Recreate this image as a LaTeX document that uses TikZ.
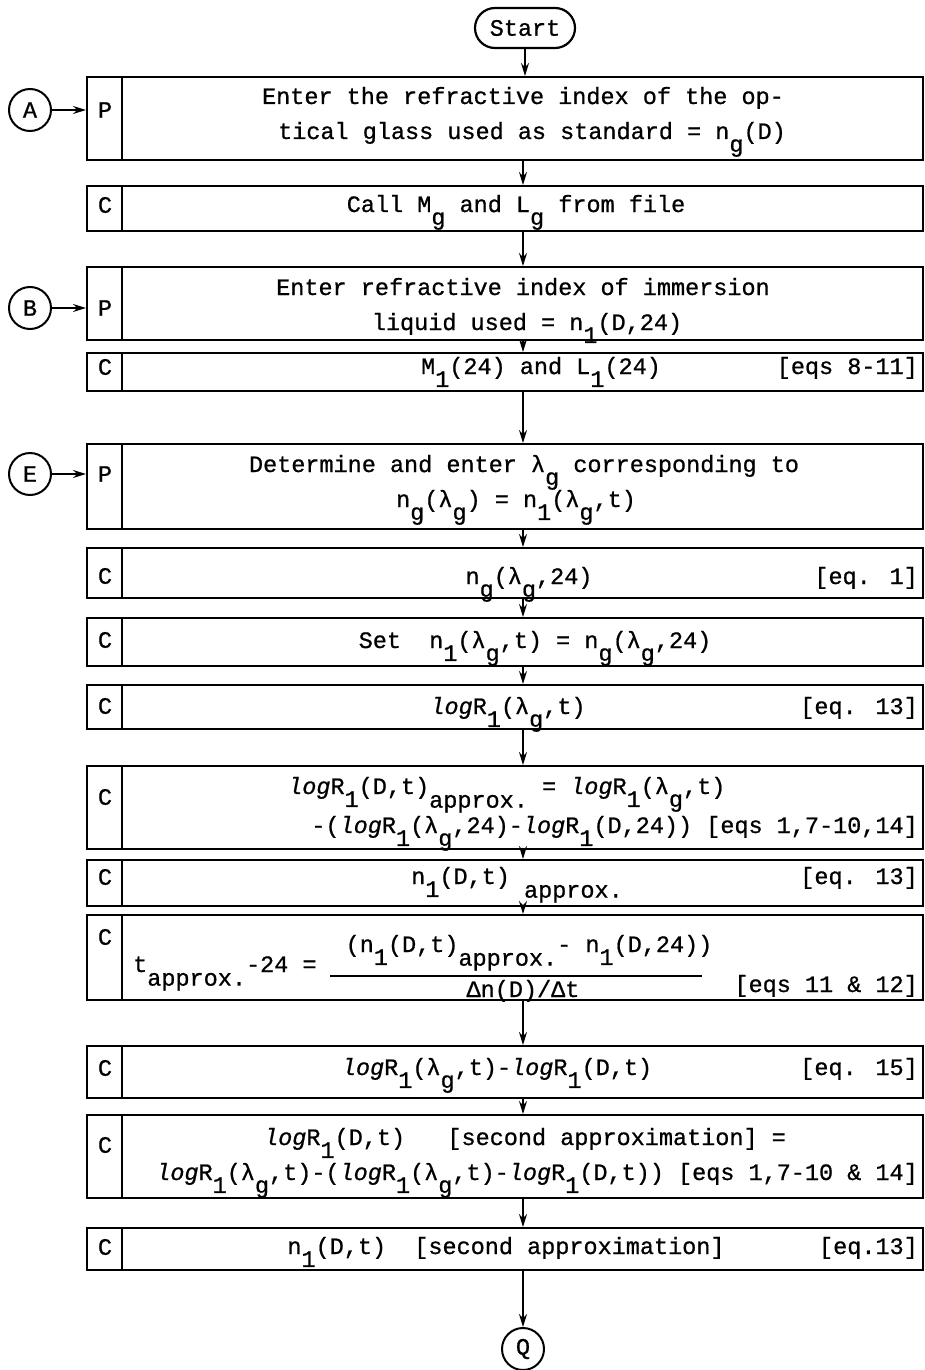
\documentclass[tikz,border=0pt]{standalone}
\usepackage{fontspec}
\setmainfont{Liberation Mono}[FakeBold=0.8]
\usetikzlibrary{arrows.meta,shapes.misc}
% lowered index, set at full size as on a typewriter
\newcommand\lo[1]{\raisebox{-0.55em}{#1}}
\newcommand\ap{\raisebox{-0.58em}{approx.}}
\newcommand\logR{\textit{log}R}
% one process box: name, top, bottom, type letter, letter y
\newcommand\flowstep[5]{%
  \node[stepbox, minimum height={(#3-#2)*1pt}] (#1) at (505,{(#2+#3)/2}) {};
  \draw[rule] ([xshift=36pt]#1.north west) -- ([xshift=36pt]#1.south west);
  \node (#1-tag) at (105,#5) {#4};
}
\begin{document}
\begin{tikzpicture}[x=1pt,y=-1pt,
  every node/.style={font=\fontsize{23.5}{28}\selectfont, inner sep=0pt},
  stepbox/.style={draw, line width=2pt, minimum width=836pt},
  rule/.style={line width=2pt},
  conn/.style={draw, circle, line width=2pt, minimum size=42pt},
  term/.style={draw, rounded rectangle, line width=2.2pt, minimum width=100pt, minimum height=40pt},
  arr/.style={line width=1.6pt, -{Stealth[length=13pt,width=8pt]}},
  txt/.style={anchor=base},
  eqref/.style={anchor=base east}]
\useasboundingbox (0,0) rectangle (925,1370);
\coordinate (spine) at (523,0);

% terminals and connectors
\node[term] (start) at (525,28) {Start};
\node[conn] (A) at (30,110) {A};
\node[conn] (B) at (30,308) {B};
\node[conn] (E) at (30,474) {E};
\node[conn] (Q) at (523,1349) {Q};

% process boxes
\flowstep{b1}{77}{160}{P}{110}
\flowstep{b2}{186}{231}{C}{205}
\flowstep{b3}{267}{340}{P}{308}
\flowstep{b4}{353}{391}{C}{367}
\flowstep{b5}{444}{529}{P}{474}
\flowstep{b6}{548}{598}{C}{576}
\flowstep{b7}{618}{666}{C}{640}
\flowstep{b8}{685}{729}{C}{706}
\flowstep{b9}{766}{849}{C}{797}
\flowstep{b10}{860}{906}{C}{877}
\flowstep{b11}{915}{1000}{C}{937}
\flowstep{b12}{1046}{1098}{C}{1068}
\flowstep{b13}{1115}{1198}{C}{1145}
\flowstep{b14}{1228}{1270}{C}{1247}

% texts
\node[txt] (b1a) at (523,104) {Enter the refractive index of the op-};
\node[txt] (b1b) at (532,139) {tical glass used as standard = n\lo{g}(D)};
\node[txt] (b2a) at (516,212) {Call M\lo{g} and L\lo{g} from file};
\node[txt] (b3a) at (523,295) {Enter refractive index of immersion};
\node[txt] (b3b) at (527,330) {liquid used = n\lo{1}(D,24)};
\node[txt] (b4a) at (541,374) {M\lo{1}(24) and L\lo{1}(24)};
\node[eqref] (b4e) at (918,374) {[eqs 8-11]};
\node[txt] (b5a) at (524,472) {Determine and enter λ\lo{g} corresponding to};
\node[txt] (b5b) at (516,507) {n\lo{g}(λ\lo{g}) = n\lo{1}(λ\lo{g},t)};
\node[txt] (b6a) at (529,584) {n\lo{g}(λ\lo{g},24)};
\node[eqref] (b6e) at (918,584) {[eq. 1]};
\node[txt] (b7a) at (535,648) {Set~~n\lo{1}(λ\lo{g},t) = n\lo{g}(λ\lo{g},24)};
\node[txt] (b8a) at (508,714) {\logR\lo{1}(λ\lo{g},t)};
\node[eqref] (b8e) at (918,714) {[eq. 13]};
\node[anchor=base west] (b9a) at (288,794) {\logR\lo{1}(D,t)\ap{} = \logR\lo{1}(λ\lo{g},t)};
\node[eqref] (b9b) at (918,833) {-(\logR\lo{1}(λ\lo{g},24)-\logR\lo{1}(D,24)) [eqs 1,7-10,14]};
\node[txt] (b10a) at (517,884) {n\lo{1}(D,t) \ap};
\node[eqref] (b10e) at (918,884) {[eq. 13]};
\node[anchor=base west] (b11l) at (133,972) {t\ap-24 =};
\node[txt] (b11n) at (529,952) {(n\lo{1}(D,t)\ap- n\lo{1}(D,24))};
\node[txt] (b11d) at (523,997) {Δn(D)/Δt};
\coordinate (fracL) at (330,976);
\coordinate (fracR) at (702,976);
\draw[line width=1.6pt] (fracL) -- (fracR);
\node[eqref] (b11e) at (918,992) {[eqs 11 \& 12]};
\node[txt] (b12a) at (497,1075) {\logR\lo{1}(λ\lo{g},t)-\logR\lo{1}(D,t)};
\node[eqref] (b12e) at (918,1075) {[eq. 15]};
\node[txt] (b13a) at (525,1145) {\logR\lo{1}(D,t)~~~[second approximation] =};
\node[eqref] (b13b) at (918,1180) {\logR\lo{1}(λ\lo{g},t)-(\logR\lo{1}(λ\lo{g},t)-\logR\lo{1}(D,t)) [eqs 1,7-10 \& 14]};
\node[txt] (b14a) at (506,1254) {n\lo{1}(D,t)~~[second approximation]};
\node[eqref] (b14e) at (918,1254) {[eq.13]};

% connectors
\draw[arr] (start.south) -- (start.south |- b1.north);
\foreach \a/\b in {b1/b2,b2/b3,b3/b4,b4/b5,b5/b6,b6/b7,b7/b8,b8/b9,b9/b10,b10/b11,b11/b12,b12/b13,b13/b14}
  \draw[arr] (\a.south -| spine) -- (\b.north -| spine);
\draw[arr] (b14.south -| spine) -- (Q.north);
\draw[arr] (A) -- (A -| b1.west);
\draw[arr] (B) -- (B -| b3.west);
\draw[arr] (E) -- (E -| b5.west);
\end{tikzpicture}
\end{document}
